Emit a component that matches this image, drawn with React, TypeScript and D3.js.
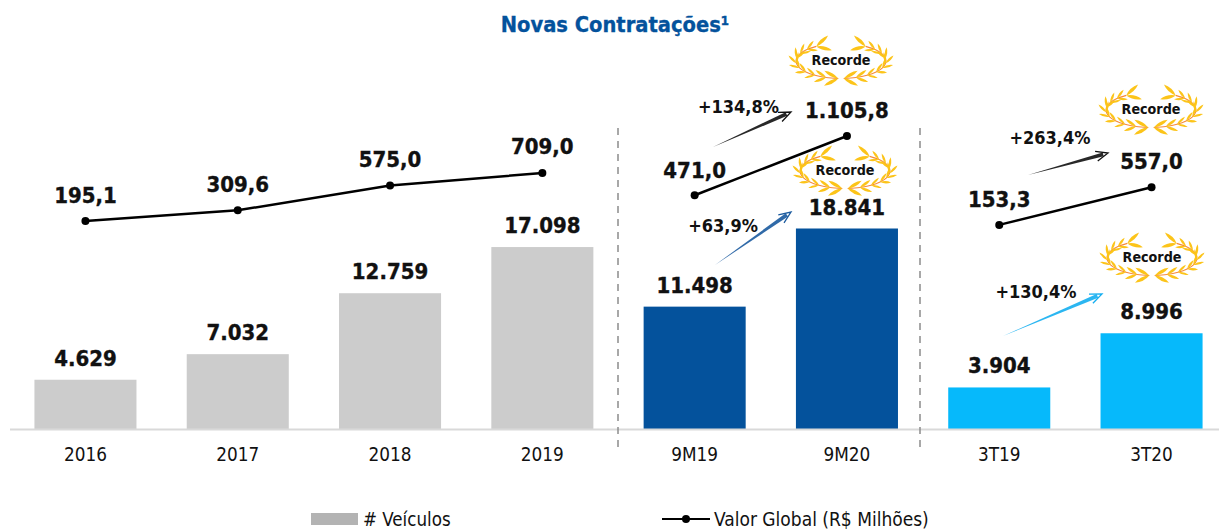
import React from "react";
import * as d3 from "d3";

const categories = ["2016","2017","2018","2019","9M19","9M20","3T19","3T20"];
const vehicles = [4629,7032,12759,17098,11498,18841,3904,8996];
const globalValue = [195.1,309.6,575.0,709.0,471.0,1105.8,153.3,557.0];
const vehicleLabels = ["4.629","7.032","12.759","17.098","11.498","18.841","3.904","8.996"];
const valueLabels = ["195,1","309,6","575,0","709,0","471,0","1.105,8","153,3","557,0"];
const barColors = ["#cccccc","#cccccc","#cccccc","#cccccc","#04529c","#04529c","#06b9fb","#06b9fb"];
const lineGroups = [[0,1,2,3],[4,5],[6,7]];
const growthLabels = ["+134,8%","+63,9%","+263,4%","+130,4%"];
const growthColors = ["#111111","#1a5a9e","#111111","#14aef0"];
const W = 1219, H = 532;
const FONT = "'DejaVu Sans Condensed', 'DejaVu Sans', sans-serif";
const SANS = "'DejaVu Sans Condensed', 'DejaVu Sans', sans-serif";

const x = d3.scaleBand<string>().domain(categories).range([9.3, 1227.7]).paddingInner(0.33).paddingOuter(0.165);
const yBar = d3.scaleLinear().domain([0, 18841]).range([429, 228.5]);
const yLine = d3.scaleLinear().domain([0, 1105.8]).range([239.2, 136]);
const cx = (i: number) => x(categories[i])! + x.bandwidth() / 2;

const linePath = d3.line<number>().x(i => cx(i)).y(i => yLine(globalValue[i]));

const LEAF_NODES = d3.range(0, 10);
function Wreath({ px, py }: { px: number; py: number }) {
  const items: React.ReactNode[] = [];
  const RX = 45, RY = 17.5;
  [-1, 1].forEach(side => {
    const angle = (t: number) => 0.06 + (t / 9) * 2.5;
    const arc = (t: number): [number, number] => [side * RX * Math.sin(angle(t)), RY * Math.cos(angle(t)) + 1];
    const stemPts = LEAF_NODES.map(arc);
    items.push(
      <path key={"s" + side} d={d3.line().curve(d3.curveCatmullRom)(stemPts) || ""} fill="none" stroke="#f58a3c" strokeWidth={1.1} />
    );
    LEAF_NODES.forEach(t => {
      const a = angle(t);
      const [lx, ly] = arc(t);
      const tangent = Math.atan2(-RY * Math.sin(a), side * RX * Math.cos(a)) * 180 / Math.PI;
      [-1, 1].forEach(o => {
        const rot = tangent + o * 28;
        const L = t === 0 || t === 9 ? 16 : t < 2 ? 13 : 11;
        items.push(
          <path key={`l${side}${t}${o}`} transform={`translate(${lx},${ly}) rotate(${rot})`}
            d={`M0,0 Q${L * 0.5},${-L * 0.22} ${L},0 Q${L * 0.5},${L * 0.22} 0,0`} fill="#fcc419" />
        );
      });
    });
  });
  return (
    <g transform={`translate(${px},${py})`}>
      {items}
      <text y={5} textAnchor="middle" fontFamily={FONT} fontWeight={700} fontSize={14.2} fill="#111">Recorde</text>
    </g>
  );
}

function Arrow({ x1, y1, x2, y2, color }: { x1: number; y1: number; x2: number; y2: number; color: string }) {
  const dx = x2 - x1, dy = y2 - y1, len = Math.hypot(dx, dy);
  const nx = -dy / len, ny = dx / len;
  const ux = dx / len, uy = dy / len;
  const bx = x2 - ux * 5, by = y2 - uy * 5;
  const w = 2;
  return (
    <g>
      <path d={`M${x1},${y1} L${bx + nx * w},${by + ny * w} L${bx - nx * w},${by - ny * w} Z`} fill={color} opacity={0.9} />
      <path d={`M${x2 - ux * 12 + nx * 5},${y2 - uy * 12 + ny * 5} L${x2},${y2} L${x2 - ux * 12 - nx * 5},${y2 - uy * 12 - ny * 5}`} fill="none" stroke={color} strokeWidth={1.3} />
    </g>
  );
}

export default function App() {
  const labelBold = { fontFamily: FONT, fontWeight: 700, fontSize: 22, fill: "#111", stroke: "#111", strokeWidth: 0.35, textAnchor: "middle" as const };
  const growth = { fontFamily: FONT, fontWeight: 700, fontSize: 18, fill: "#111", textAnchor: "middle" as const };
  const wreaths = [[841, 60], [845, 170], [1151, 109], [1152, 257]];
  const arrows = [
    [713, 147, 791, 112],
    [715, 265, 791, 212],
    [1028, 175, 1108, 153],
    [1003, 336, 1102, 294],
  ];
  const growthPos = [[738.5, 113], [723, 232], [1050, 144], [1036, 298]];
  const valueLabelY = [203, 192, 167, 154, 178, 118, 207, 169];
  return (
    <svg width={W} height={H} style={{ position: "absolute", left: 0, top: 0, background: "#fff" }}>
      <text x={615} y={32} textAnchor="middle" fontFamily={FONT} fontWeight={700} fontSize={21.7} fill="#04529c" stroke="#04529c" strokeWidth={0.3}>Novas Contratações¹</text>

      {vehicles.map((v, i) => (
        <rect key={i} x={x(categories[i])} y={yBar(v)} width={x.bandwidth()} height={429 - yBar(v)} fill={barColors[i]} />
      ))}
      <line x1={10} x2={1219} y1={429.5} y2={429.5} stroke="#d9d9d9" strokeWidth={2} />

      {[618, 920].map(px => (
        <line key={px} x1={px} x2={px} y1={128} y2={450} stroke="#8c8c8c" strokeWidth={1.5} strokeDasharray="7 6" />
      ))}

      {lineGroups.map((g, k) => <path key={k} d={linePath(g) || ""} fill="none" stroke="#000" strokeWidth={2.5} />)}
      {globalValue.map((v, i) => <circle key={i} cx={cx(i)} cy={yLine(v)} r={4} fill="#000" />)}

      {arrows.map((a, i) => <Arrow key={i} x1={a[0]} y1={a[1]} x2={a[2]} y2={a[3]} color={growthColors[i]} />)}
      {growthLabels.map((t, i) => <text key={t} {...growth} x={growthPos[i][0]} y={growthPos[i][1]}>{t}</text>)}
      {wreaths.map((w, i) => <Wreath key={i} px={w[0]} py={w[1]} />)}

      {valueLabels.map((t, i) => (
        <text key={t} {...labelBold} x={cx(i)} y={valueLabelY[i]}>{t}</text>
      ))}
      {vehicleLabels.map((t, i) => (
        <text key={t} {...labelBold} x={cx(i)} y={yBar(vehicles[i]) - 14}>{t}</text>
      ))}

      {categories.map((c, i) => (
        <text key={c} x={cx(i)} y={461} textAnchor="middle" fontFamily={SANS} fontSize={18.8} fill="#111">{c}</text>
      ))}

      <rect x={311} y={513} width={47} height={12} fill="#b3b3b3" />
      <text x={363} y={526} fontFamily={SANS} fontSize={18.6} fill="#111">{"# Veículos"}</text>
      <line x1={662} x2={710} y1={519} y2={519} stroke="#000" strokeWidth={2} />
      <circle cx={686} cy={519} r={4} fill="#000" />
      <text x={714} y={526} fontFamily={SANS} fontSize={19} fill="#111">Valor Global (R$ Milhões)</text>
    </svg>
  );
}
